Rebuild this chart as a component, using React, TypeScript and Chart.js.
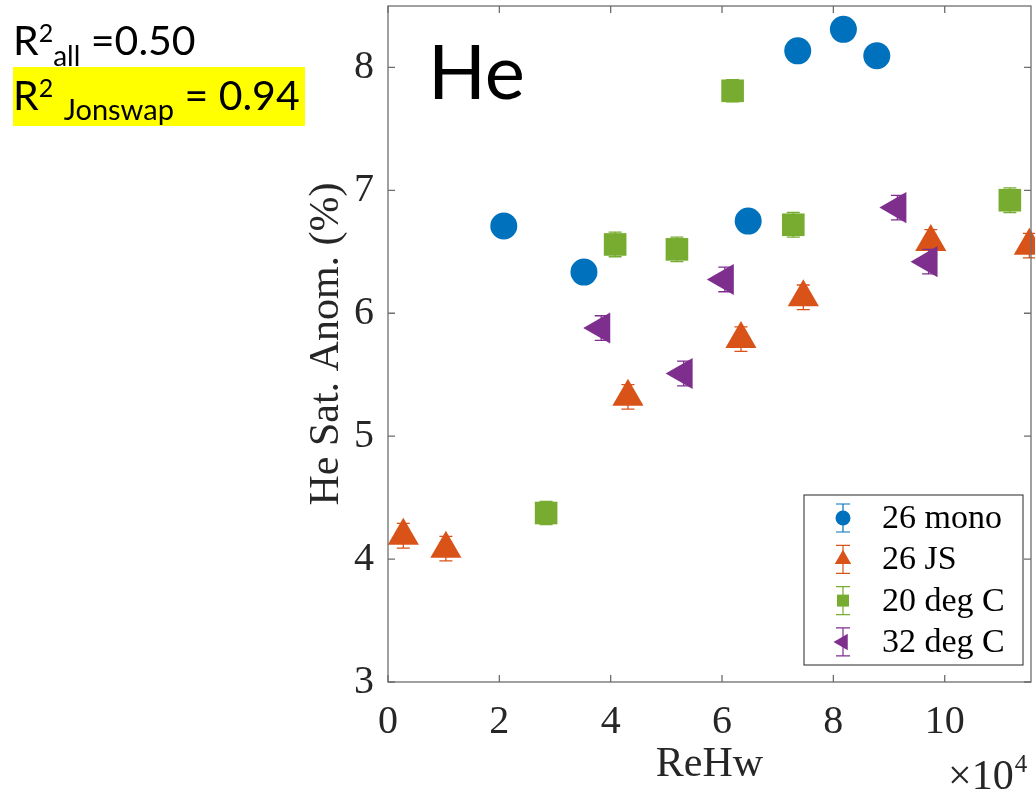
import React, { useEffect, useRef } from "react";
import { Chart, registerables } from "chart.js";

Chart.register(...registerables);

const W = 1035;
const H = 792;

// ---- data ----
const seriesLabels = ["26 mono", "26 JS", "20 deg C", "32 deg C"];
const seriesColors = ["#0072BD", "#D95319", "#77AC30", "#7E2F8E"];

const monoX = [2.08, 3.52, 6.47, 7.36, 8.18, 8.78];
const monoY = [6.71, 6.335, 6.75, 8.135, 8.31, 8.095];
const monoErr = [0.05, 0.05, 0.05, 0.05, 0.05, 0.05];

const jsX = [0.275, 1.04, 4.31, 6.34, 7.46, 9.75, 11.52];
const jsY = [4.19, 4.085, 5.32, 5.79, 6.13, 6.58, 6.55];
const jsErr = [0.1, 0.1, 0.1, 0.1, 0.1, 0.1, 0.1];

const c20X = [2.84, 4.08, 5.19, 6.19, 7.28, 11.17];
const c20Y = [4.375, 6.56, 6.52, 7.81, 6.72, 6.92];
const c20Err = [0.095, 0.1, 0.1, 0.09, 0.1, 0.1];

const c32X = [3.83, 5.31, 6.05, 9.15, 9.71];
const c32Y = [5.88, 5.51, 6.275, 6.86, 6.42];
const c32Err = [0.1, 0.1, 0.1, 0.1, 0.1];

const xTickStep = 2;
const yTickStep = 1;
const xMin = 0;
const xMax = 11.55;
const yMin = 3;
const yMax = 8.5;

const xTitle = "ReHw";
const yTitle = "He Sat. Anom. (%)";
const panelLabel = "He";
const xExponentBase = "\u00d710";
const xExponent = "4";

const toPoints = (xs: number[], ys: number[], es: number[]) =>
  xs.map((x, i) => ({ x, y: ys[i], err: es[i] }));

const AXIS_COLOR = "#6e6e6e";
const TEXT_COLOR = "#262626";
const SERIF = "'Liberation Serif', 'Times New Roman', serif";

const errorBarPlugin = {
  id: "errorBars",
  afterDatasetDraw(chart: any, args: any) {
    const ds = chart.data.datasets[args.index];
    const ctx = chart.ctx;
    const xs = chart.scales.x;
    const ys = chart.scales.y;
    ctx.save();
    ctx.strokeStyle = ds.backgroundColor;
    ctx.lineWidth = 1.3;
    ds.data.forEach((p: any) => {
      const px = xs.getPixelForValue(p.x);
      const t = ys.getPixelForValue(p.y + p.err);
      const b = ys.getPixelForValue(p.y - p.err);
      ctx.beginPath();
      ctx.moveTo(px, t);
      ctx.lineTo(px, b);
      ctx.moveTo(px - 6.5, t);
      ctx.lineTo(px + 6.5, t);
      ctx.moveTo(px - 6.5, b);
      ctx.lineTo(px + 6.5, b);
      ctx.stroke();
    });
    ctx.restore();
  },
};

const boxPlugin = {
  id: "boxAndDecor",
  afterDraw(chart: any) {
    const ctx = chart.ctx;
    const { left, right, top, bottom } = chart.chartArea;
    const xs = chart.scales.x;
    const ys = chart.scales.y;
    ctx.save();
    // box
    ctx.strokeStyle = AXIS_COLOR;
    ctx.lineWidth = 1.3;
    ctx.strokeRect(left, top, right - left, bottom - top);
    // inward ticks
    const tl = 7;
    ctx.beginPath();
    xs.ticks.forEach((t: any) => {
      const px = xs.getPixelForValue(t.value);
      ctx.moveTo(px, bottom);
      ctx.lineTo(px, bottom - tl);
      ctx.moveTo(px, top);
      ctx.lineTo(px, top + tl);
    });
    ys.ticks.forEach((t: any) => {
      const py = ys.getPixelForValue(t.value);
      ctx.moveTo(left, py);
      ctx.lineTo(left + tl, py);
      ctx.moveTo(right, py);
      ctx.lineTo(right - tl, py);
    });
    ctx.stroke();

    // panel label
    ctx.fillStyle = "#000";
    ctx.font = "76px Lato, 'Open Sans', sans-serif";
    ctx.textAlign = "left";
    ctx.textBaseline = "alphabetic";
    ctx.fillText(panelLabel, left + 40, top + 93);

    // x10^4 exponent label
    ctx.fillStyle = TEXT_COLOR;
    ctx.font = `42px ${SERIF}`;
    ctx.textAlign = "left";
    ctx.fillText(xExponentBase, 948, 789);
    const wBase = ctx.measureText(xExponentBase).width;
    ctx.font = `25px ${SERIF}`;
    ctx.fillText(xExponent, 948 + wBase + 1, 772);

    // legend
    const lw = 219;
    const lh = 170;
    const lx = right - 8 - lw;
    const ly = bottom - 17 - lh;
    ctx.fillStyle = "#fff";
    ctx.fillRect(lx, ly, lw, lh);
    ctx.strokeStyle = TEXT_COLOR;
    ctx.lineWidth = 1;
    ctx.strokeRect(lx, ly, lw, lh);
    const rowH = 41.3;
    chart.data.datasets.forEach((ds: any, i: number) => {
      const cy = ly + 23 + i * rowH;
      const cx = lx + 39;
      const col = ds.backgroundColor;
      ctx.strokeStyle = col;
      ctx.fillStyle = col;
      ctx.lineWidth = 1.2;
      ctx.beginPath();
      ctx.moveTo(cx, cy - 14);
      ctx.lineTo(cx, cy + 14);
      ctx.moveTo(cx - 7, cy - 14);
      ctx.lineTo(cx + 7, cy - 14);
      ctx.moveTo(cx - 7, cy + 14);
      ctx.lineTo(cx + 7, cy + 14);
      ctx.stroke();
      ctx.beginPath();
      const style = ds.pointStyle;
      const rot = ds.pointRotation || 0;
      if (style === "circle") {
        ctx.arc(cx, cy, 7.5, 0, Math.PI * 2);
      } else if (style === "rect") {
        ctx.rect(cx - 6, cy - 6, 12, 12);
      } else {
        const r = 9.5;
        let rad = (rot * Math.PI) / 180;
        ctx.moveTo(cx + Math.sin(rad) * r, cy - Math.cos(rad) * r);
        rad += (2 * Math.PI) / 3;
        ctx.lineTo(cx + Math.sin(rad) * r, cy - Math.cos(rad) * r);
        rad += (2 * Math.PI) / 3;
        ctx.lineTo(cx + Math.sin(rad) * r, cy - Math.cos(rad) * r);
        ctx.closePath();
      }
      ctx.fill();
      ctx.fillStyle = "#000";
      ctx.font = `34px ${SERIF}`;
      ctx.textAlign = "left";
      ctx.textBaseline = "middle";
      ctx.fillText(ds.label, lx + 78, cy + 1);
    });
    ctx.restore();
  },
};

function makeDataset(i: number, pts: any[], style: string, radius: number, rotation: number, order: number) {
  return {
    label: seriesLabels[i],
    data: pts,
    backgroundColor: seriesColors[i],
    borderColor: seriesColors[i],
    pointBackgroundColor: seriesColors[i],
    pointBorderColor: seriesColors[i],
    pointBorderWidth: 0,
    pointStyle: style,
    pointRadius: radius,
    pointRotation: rotation,
    showLine: false,
    clip: false as any,
    order,
  };
}

export default function App() {
  const ref = useRef<HTMLCanvasElement>(null);

  useEffect(() => {
    if (!ref.current) return;
    const chart = new Chart(ref.current, {
      type: "scatter",
      data: {
        datasets: [
          makeDataset(0, toPoints(monoX, monoY, monoErr), "circle", 13.5, 0, 3),
          makeDataset(1, toPoints(jsX, jsY, jsErr), "triangle", 18, 0, 2),
          makeDataset(2, toPoints(c20X, c20Y, c20Err), "rect", 16, 0, 1),
          makeDataset(3, toPoints(c32X, c32Y, c32Err), "triangle", 18, -90, 0),
        ] as any,
      },
      options: {
        responsive: false,
        animation: false,
        events: [],
        layout: { autoPadding: false, padding: { left: 0, top: 6, right: 4, bottom: 0 } },
        plugins: {
          legend: { display: false },
          tooltip: { enabled: false },
        },
        scales: {
          x: {
            type: "linear",
            min: xMin,
            max: xMax,
            grid: { display: false, drawTicks: false },
            border: { display: false },
            ticks: {
              stepSize: xTickStep,
              includeBounds: false,
              autoSkip: false,
              maxRotation: 0,
              padding: 16,
              color: TEXT_COLOR,
              font: { family: SERIF, size: 40 },
              callback: (v: any) => String(v),
            },
            title: {
              display: true,
              text: xTitle,
              color: TEXT_COLOR,
              font: { family: SERIF, size: 42 },
              padding: { top: 0, bottom: 2 },
            },
            afterFit: (s: any) => {
              s.height = 110;
              s.paddingLeft = 0;
              s.paddingRight = 0;
            },
          },
          y: {
            type: "linear",
            min: yMin,
            max: yMax,
            grid: { display: false, drawTicks: false },
            border: { display: false },
            ticks: {
              stepSize: yTickStep,
              includeBounds: false,
              autoSkip: false,
              padding: 14,
              color: TEXT_COLOR,
              font: { family: SERIF, size: 40 },
              callback: (v: any) => String(v),
            },
            title: {
              display: true,
              text: yTitle,
              color: TEXT_COLOR,
              font: { family: SERIF, size: 42 },
              padding: { top: 302, bottom: 0 },
            },
            afterFit: (s: any) => {
              s.width = 388;
              s.paddingTop = 0;
              s.paddingBottom = 0;
            },
          },
        },
      },
      plugins: [errorBarPlugin, boxPlugin],
    } as any);
    return () => chart.destroy();
  }, []);

  const lineBase: React.CSSProperties = {
    position: "absolute",
    left: 13,
    fontFamily: "Lato, 'Open Sans', sans-serif",
    fontSize: 41,
    lineHeight: "46px",
    whiteSpace: "nowrap",
    color: "#000",
  };
  const sup: React.CSSProperties = { fontSize: 25, position: "relative", top: -13, lineHeight: 0 };
  const sub: React.CSSProperties = { fontSize: 28, position: "relative", top: 11, lineHeight: 0 };

  return (
    <div style={{ position: "fixed", left: 0, top: 0, width: W, height: H, background: "#fff", overflow: "hidden" }}>
      <div style={{ position: "absolute", left: 13, top: 67, width: 292, height: 59, background: "#FFFF00" }} />
      <canvas ref={ref} width={W} height={H} style={{ position: "absolute", left: 0, top: 0, width: W, height: H }} />
      <div style={{ ...lineBase, top: 17 }}>
        R<span style={sup}>2</span>
        <span style={sub}>all</span> =0.50
      </div>
      <div style={{ ...lineBase, top: 72 }}>
        R<span style={sup}>2</span> <span style={{ ...sub, fontSize: 29, top: 10 }}>Jonswap</span> = 0.94
      </div>
    </div>
  );
}
